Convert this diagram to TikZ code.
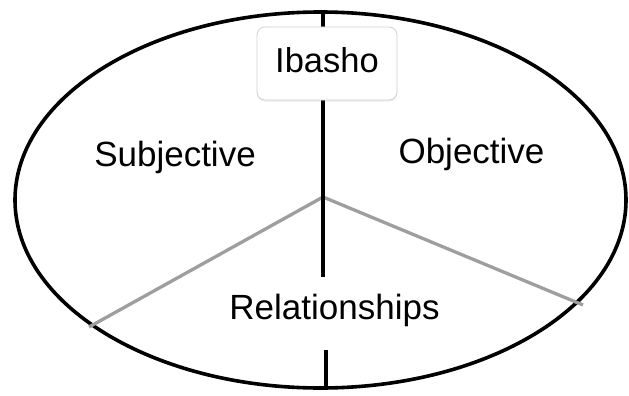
\documentclass[tikz,border=0pt]{standalone}
\usepackage{fontspec}
\setmainfont{Liberation Sans}
\usetikzlibrary{shapes.geometric,shadows}
\tikzset{
  lbl/.style={font=\fontsize{35}{40}\selectfont, inner sep=0pt, anchor=base},
  divider/.style={line width=4pt, black},
  spoke/.style={line width=3.3pt, color=black!38},
  ibox/.style={draw=black!18, line width=0.8pt, fill=white, rounded corners=8pt,
    minimum width=140pt, minimum height=73pt, inner sep=0pt,
    font=\fontsize{34.5}{40}\selectfont, text height=25pt, text depth=6pt,
    drop shadow={opacity=0.15, shadow xshift=0pt, shadow yshift=-1.5pt}}
}
\begin{document}
\begin{tikzpicture}[x=1pt,y=-1pt]
\useasboundingbox (0,0) rectangle (629,396);
% outer ellipse
\node[draw, line width=3.6pt, ellipse, minimum width=611pt, minimum height=376pt, inner sep=0pt] (E) at (320.5,200) {};
% coordinates
\coordinate (C) at (323,197);
\coordinate (Ltop) at (323,12);
\coordinate (Lmid) at (323,277);
\coordinate (Bstart) at (326,350);
\coordinate (Bend) at (326,388);
\coordinate (SL) at (89,327);
\coordinate (SR) at (583,305);
% spokes
\draw[spoke] (C) -- (SL);
\draw[spoke] (C) -- (SR);
% vertical divider
\draw[divider] (Ltop) -- (Lmid);
\draw[divider] (Bstart) -- (Bend);
% Ibasho box
\node[ibox] (ib) at (327,63.5) {Ibasho};
% labels
\node[lbl] (subj) at (175,166.7) {Subjective};
\node[lbl] (obj) at (471.5,163) {Objective};
\node[lbl] (rel) at (334.5,319) {Relationships};
\end{tikzpicture}
\end{document}
